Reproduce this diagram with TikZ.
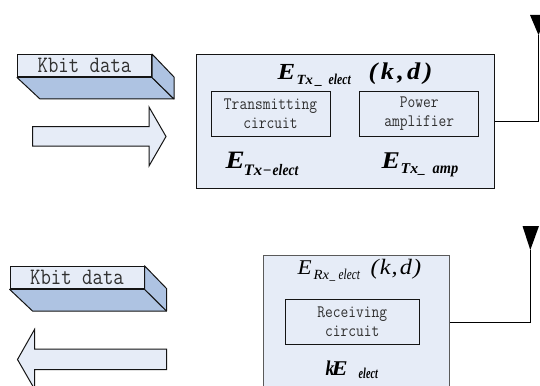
\documentclass[tikz,border=0pt]{standalone}
\usepackage{fontspec}
\usepackage{graphicx}
\setmainfont{Liberation Serif}
\newcommand{\pc}[5]{\rlap{\hspace{#1pt}\raisebox{-#2pt}{\scalebox{#4}[1]{\fontsize{#3pt}{#3pt}\selectfont #5}}}}
\newcommand{\mono}[1]{\scalebox{0.86}[1]{#1}}
\definecolor{lightfill}{HTML}{E6ECF7}
\definecolor{sidefill}{HTML}{AEC3E2}
\definecolor{edge}{HTML}{141414}
\definecolor{monotext}{HTML}{303030}
\tikzset{
  panel/.style={draw=edge,fill=lightfill,line width=1pt,inner sep=0pt,anchor=north west},
  slab/.style={draw=edge,fill=sidefill,line width=1pt,line join=round},
  banner/.style={draw=edge,fill=lightfill,line width=1pt,inner sep=0pt,minimum width=134pt,minimum height=22.5pt,
    font=\ttfamily\fontsize{23.5pt}{23.5pt}\selectfont,text=monotext},
  circuit/.style={draw=edge,fill=lightfill,line width=1pt,inner sep=0pt,minimum width=119pt,minimum height=44.5pt,
    align=center,font=\ttfamily\fontsize{17.5pt}{18.5pt}\selectfont,text=monotext},
  bigarrow/.style={draw=edge,fill=lightfill,line width=1pt,line join=miter},
  wire/.style={draw=black,line width=1.4pt},
  antenna/.style={fill=black,draw=none},
  formula/.style={inner sep=0pt,anchor=base west,font=\bfseries\itshape}
}
\begin{document}
\begin{tikzpicture}[x=1pt,y=-1pt]
\useasboundingbox (0,0) rectangle (540,385);
\clip (0,0) rectangle (540,385);
\fill[white] (0,0) rectangle (540,385);

% top banner
\node[banner] (tb) at (84.5,65.75) {\mono{Kbit data}};
\coordinate (tb1) at (40,99);
\coordinate (tb2) at (174,99);
\coordinate (tb3) at (174,77);
\draw[slab] (tb.south west) -- (tb1) -- (tb2) -- (tb.south east) -- cycle;
\draw[slab] (tb.north east) -- (tb3) -- (tb2) -- (tb.south east) -- cycle;

% top arrow
\draw[bigarrow] (32.5,126.5) -- (149,126.5) -- (149,107) -- (166,136.5) -- (149,166) -- (149,146) -- (32.5,146) -- cycle;

% transmitter
\node[panel,minimum width=298pt,minimum height=133.5pt] (tx) at (196,54.5) {};
\node[circuit] (tc) at (270.5,113.75) {\mono{Transmitting}\\\mono{circuit}};
\node[circuit] (pa) at (419.25,113.75) {\mono{Power}\\\mono{amplifier}};
\node[formula] (f1) at (277,80) {\pc{0}{0}{23}{1.15}{E}\pc{19}{5}{14}{1.05}{Tx}\pc{38}{5}{14}{1}{\_}\pc{51}{5}{15}{0.78}{elect}\pc{91}{0}{24}{1.1}{(\kern3pt k\kern3pt,\kern3pt d\kern3pt)}};
\node[formula] (f2) at (225,168) {\pc{0}{0}{25}{1.15}{E}\pc{18}{7}{16}{1.05}{Tx}\pc{37}{7}{15}{1}{−}\pc{47}{7}{16}{0.85}{elect}};
\node[formula] (f3) at (381,168) {\pc{0}{0}{24}{1.15}{E}\pc{19}{5}{15}{1.05}{Tx}\pc{37}{5}{14}{1}{\_}\pc{51}{5}{16}{0.9}{amp}};

% antenna 1
\coordinate (a1) at (538.5,35);
\fill[antenna] (530,15) -- (547,15) -- (a1) -- cycle;
\draw[wire] (tx.east) -| (a1);

% bottom banner
\node[banner] (bb) at (77,277.5) {\mono{Kbit data}};
\coordinate (bb1) at (32.5,311);
\coordinate (bb2) at (166.5,311);
\coordinate (bb3) at (166.5,288.5);
\draw[slab] (bb.south west) -- (bb1) -- (bb2) -- (bb.south east) -- cycle;
\draw[slab] (bb.north east) -- (bb3) -- (bb2) -- (bb.south east) -- cycle;

% bottom arrow
\draw[bigarrow] (166.5,349) -- (34.5,349) -- (34.5,329.5) -- (17.5,359.5) -- (34.5,389) -- (34.5,369.5) -- (166.5,369.5) -- cycle;

% receiver
\node[panel,draw=edge!70,line width=1.3pt,minimum width=186pt,minimum height=134pt] (rx) at (262.7,255) {};
\node[circuit,minimum width=134pt,minimum height=45pt] (rc) at (352.3,321.8) {\mono{Receiving}\\\mono{circuit}};
\node[formula,font=\itshape] (f4) at (297,274) {\pc{0}{0}{21}{1.1}{E}\pc{16}{5}{14}{1.05}{Rx}\pc{32}{5}{14}{0.8}{\_}\pc{41}{5}{15}{0.75}{elect}\pc{73}{0}{22}{1.1}{(\kern1pt k\kern1pt,\kern2pt d\kern1pt)}};
\node[formula] (f5) at (325,375) {\pc{0}{0}{21}{0.85}{k}\pc{6}{0}{21}{1.15}{E}\pc{33}{3}{15}{0.68}{elect}};

% antenna 2
\coordinate (a2) at (530.3,250);
\fill[antenna] (522.5,226) -- (539,226) -- (a2) -- cycle;
\draw[wire] (rx.east) -| (a2);
\end{tikzpicture}
\end{document}
